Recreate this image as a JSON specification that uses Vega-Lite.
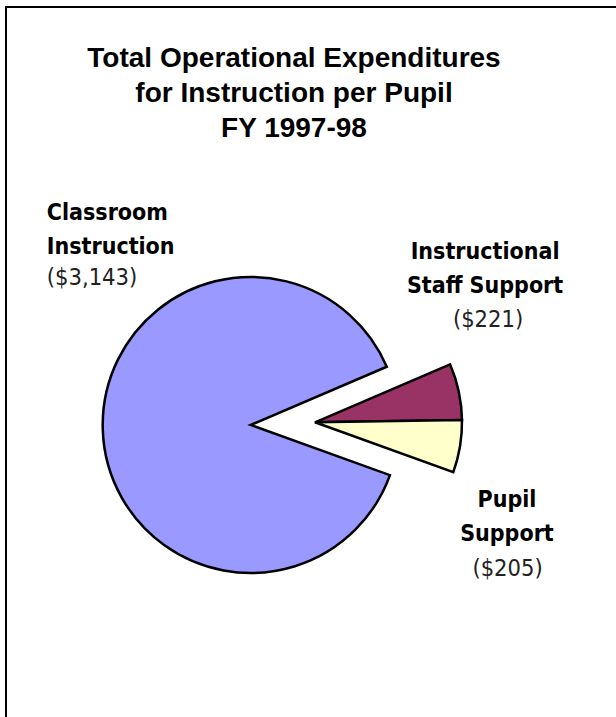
{
  "$schema": "https://vega.github.io/schema/vega-lite/v6.json",
  "width": 610,
  "height": 710,
  "autosize": "none",
  "padding": {"left": 6, "top": 7, "right": 0, "bottom": 0},
  "background": "white",
  "view": {"stroke": null},
  "title": {
    "text": ["Total Operational Expenditures", "for Instruction per Pupil", "FY 1997-98"],
    "font": "Liberation Sans",
    "fontSize": 28,
    "fontWeight": "bold",
    "color": "black",
    "anchor": "middle",
    "frame": "group",
    "baseline": "alphabetic",
    "offset": -159,
    "lineHeight": 35,
    "dx": -17
  },
  "data": {
    "values": [
      {"category": "Classroom Instruction", "name": "Classroom\nInstruction", "value": 3143, "label": "($3,143)"},
      {"category": "Instructional Staff Support", "name": "Instructional\nStaff Support", "value": 221, "label": "($221)"},
      {"category": "Pupil Support", "name": "Pupil\nSupport", "value": 205, "label": "($205)"}
    ]
  },
  "layer": [
    {
      "data": {"values": [{"frame": "border"}]},
      "mark": {"type": "rect", "x": 0, "y": 0, "x2": {"expr": "width"}, "y2": {"expr": "height"}, "fill": null, "stroke": "black", "strokeWidth": 2, "strokeDash": [610, 1320, 710], "strokeCap": "square"},
      "encoding": {}
    },
    {
      "mark": {"type": "arc", "radius": 148, "stroke": "black", "strokeWidth": 2.5, "strokeJoin": "miter", "x": {"expr": "width/2 - 60.3"}, "y": {"expr": "height/2 + 63"}},
      "encoding": {
        "theta": {"field": "value", "type": "quantitative", "stack": true, "scale": {"range": [1.9164, 8.1996]}},
        "order": {"field": "category", "sort": "ascending"},
        "color": {"field": "category", "type": "nominal", "legend": null, "scale": {"domain": ["Classroom Instruction", "Instructional Staff Support", "Pupil Support"], "range": ["#9999FF", "#993366", "#FFFFCC"]}},
        "opacity": {"condition": {"test": "datum.category === 'Classroom Instruction'", "value": 1}, "value": 0}
      }
    },
    {
      "mark": {"type": "arc", "radius": 147, "stroke": "black", "strokeWidth": 2.5, "strokeJoin": "miter", "x": {"expr": "width/2 + 4"}, "y": {"expr": "height/2 + 60.3"}},
      "encoding": {
        "theta": {"field": "value", "type": "quantitative", "stack": true},
        "order": {"field": "category", "sort": "ascending"},
        "color": {"field": "category", "type": "nominal", "legend": null, "scale": {"domain": ["Classroom Instruction", "Instructional Staff Support", "Pupil Support"], "range": ["#9999FF", "#993366", "#FFFFCC"]}},
        "opacity": {"condition": {"test": "datum.category === 'Classroom Instruction'", "value": 0}, "value": 1}
      }
    },
    {
      "mark": {"type": "text", "font": "DejaVu Sans Condensed", "fontSize": 23, "fontWeight": "bold", "align": "left", "baseline": "alphabetic", "lineBreak": "\n", "lineHeight": 34, "radius": 220, "dx": 16, "dy": -211, "x": {"expr": "width/2 - 60.3"}, "y": {"expr": "height/2 + 63"}},
      "encoding": {
        "theta": {"field": "value", "type": "quantitative", "stack": true},
        "order": {"field": "category", "sort": "ascending"},
        "text": {"condition": {"test": "datum.category === 'Classroom Instruction'", "field": "name", "type": "nominal"}, "value": ""},
        "color": {"value": "black"}
      }
    },
    {
      "mark": {"type": "text", "font": "DejaVu Sans Condensed", "fontSize": 23.5, "fontWeight": "normal", "align": "left", "baseline": "alphabetic", "radius": 220, "dx": 16, "dy": -146, "x": {"expr": "width/2 - 60.3"}, "y": {"expr": "height/2 + 63"}},
      "encoding": {
        "theta": {"field": "value", "type": "quantitative", "stack": true},
        "order": {"field": "category", "sort": "ascending"},
        "text": {"condition": {"test": "datum.category === 'Classroom Instruction'", "field": "label", "type": "nominal"}, "value": ""},
        "color": {"value": "#222222"}
      }
    },
    {
      "mark": {"type": "text", "font": "DejaVu Sans Condensed", "fontSize": 23, "fontWeight": "bold", "align": "center", "baseline": "alphabetic", "lineBreak": "\n", "lineHeight": 34, "radius": 180, "dx": -6, "dy": -125.5, "x": {"expr": "width/2 + 4"}, "y": {"expr": "height/2 + 60.3"}},
      "encoding": {
        "theta": {"field": "value", "type": "quantitative", "stack": true},
        "order": {"field": "category", "sort": "ascending"},
        "text": {"condition": {"test": "datum.category === 'Instructional Staff Support'", "field": "name", "type": "nominal"}, "value": ""},
        "color": {"value": "black"}
      }
    },
    {
      "mark": {"type": "text", "font": "DejaVu Sans Condensed", "fontSize": 23.5, "fontWeight": "normal", "align": "center", "baseline": "alphabetic", "radius": 180, "dx": -3, "dy": -58.3, "x": {"expr": "width/2 + 4"}, "y": {"expr": "height/2 + 60.3"}},
      "encoding": {
        "theta": {"field": "value", "type": "quantitative", "stack": true},
        "order": {"field": "category", "sort": "ascending"},
        "text": {"condition": {"test": "datum.category === 'Instructional Staff Support'", "field": "label", "type": "nominal"}, "value": ""},
        "color": {"value": "#222222"}
      }
    },
    {
      "mark": {"type": "text", "font": "DejaVu Sans Condensed", "fontSize": 23, "fontWeight": "bold", "align": "center", "baseline": "alphabetic", "lineBreak": "\n", "lineHeight": 34, "radius": 180, "dx": 14.4, "dy": 54.8, "x": {"expr": "width/2 + 4"}, "y": {"expr": "height/2 + 60.3"}},
      "encoding": {
        "theta": {"field": "value", "type": "quantitative", "stack": true},
        "order": {"field": "category", "sort": "ascending"},
        "text": {"condition": {"test": "datum.category === 'Pupil Support'", "field": "name", "type": "nominal"}, "value": ""},
        "color": {"value": "black"}
      }
    },
    {
      "mark": {"type": "text", "font": "DejaVu Sans Condensed", "fontSize": 23.5, "fontWeight": "normal", "align": "center", "baseline": "alphabetic", "radius": 180, "dx": 15, "dy": 124, "x": {"expr": "width/2 + 4"}, "y": {"expr": "height/2 + 60.3"}},
      "encoding": {
        "theta": {"field": "value", "type": "quantitative", "stack": true},
        "order": {"field": "category", "sort": "ascending"},
        "text": {"condition": {"test": "datum.category === 'Pupil Support'", "field": "label", "type": "nominal"}, "value": ""},
        "color": {"value": "#222222"}
      }
    }
  ]
}
